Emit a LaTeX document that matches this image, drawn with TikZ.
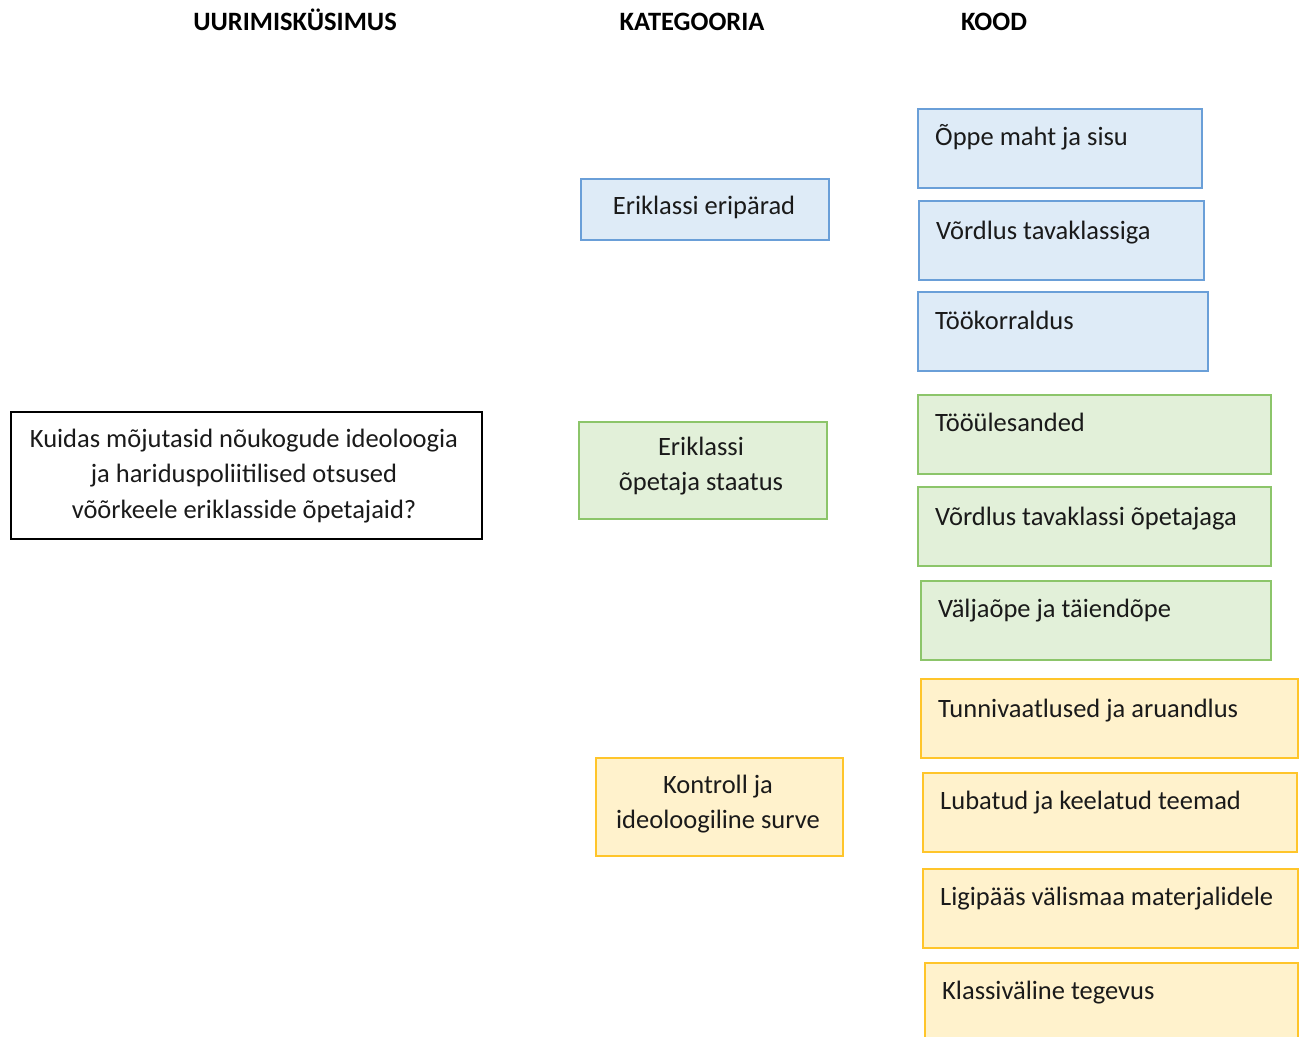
\documentclass[tikz,border=0pt]{standalone}
\usepackage{fontspec}
\setmainfont{Carlito}
\definecolor{bfill}{HTML}{DEEBF7}
\definecolor{bline}{HTML}{6A9FD8}
\definecolor{gfill}{HTML}{E2F0D9}
\definecolor{gline}{HTML}{8CC56A}
\definecolor{yfill}{HTML}{FFF2CC}
\definecolor{yline}{HTML}{FFC52A}
\definecolor{txt}{HTML}{1A1A1A}
\tikzset{
  base/.style={rectangle, anchor=north west, inner sep=0pt, line width=1.8pt, text=txt},
  bluebox/.style={base, draw=bline, fill=bfill},
  greenbox/.style={base, draw=gline, fill=gfill},
  yellowbox/.style={base, draw=yline, fill=yfill},
  qbox/.style={base, draw=black, fill=white, line width=1.5pt},
  codetext/.style={anchor=base west, inner sep=0pt, font=\fontsize{26.5}{35}\selectfont, text=txt},
  cattext/.style={align=center, inner sep=0pt, font=\fontsize{26.5}{35.5}\selectfont, text=txt},
  header/.style={anchor=base, inner sep=0pt, font=\fontsize{26.5}{30}\selectfont\bfseries, text=black}
}
\begin{document}
\begin{tikzpicture}[x=1pt,y=-1pt]
\useasboundingbox[fill=white] (0,0) rectangle (1300,1036);
% headers
\node[header] (h1) at (295,30) {UURIMISKÜSIMUS};
\node[header] (h2) at (692,30) {KATEGOORIA};
\node[header] (h3) at (994,30) {KOOD};
% question
\node[qbox, minimum width=471pt, minimum height=127pt] (q) at (10,411) {};
\node[cattext] (qt) at (244,476) {Kuidas mõjutasid nõukogude ideoloogia\\ja hariduspoliitilised otsused\\võõrkeele eriklasside õpetajaid?};
% categories
\node[bluebox, minimum width=248pt, minimum height=61pt] (k1) at (580,178) {};
\node[cattext] (k1t) at (704,207) {Eriklassi eripärad};
\node[greenbox, minimum width=248pt, minimum height=97pt] (k2) at (578,421) {};
\node[cattext] (k2t) at (701,466) {Eriklassi\\õpetaja staatus};
\node[yellowbox, minimum width=247pt, minimum height=98pt] (k3) at (595,757) {};
\node[cattext] (k3t) at (718,804) {Kontroll ja\\ideoloogiline surve};
% codes
\node[bluebox, minimum width=284pt, minimum height=79pt] (c1) at (917,108) {};
\node[codetext] (c1t) at (935,145) {Õppe maht ja sisu};
\node[bluebox, minimum width=285pt, minimum height=79pt] (c2) at (918,200) {};
\node[codetext] (c2t) at (936,239) {Võrdlus tavaklassiga};
\node[bluebox, minimum width=290pt, minimum height=79pt] (c3) at (917,291) {};
\node[codetext] (c3t) at (935,329) {Töökorraldus};
\node[greenbox, minimum width=353pt, minimum height=79pt] (c4) at (917,394) {};
\node[codetext] (c4t) at (935,431) {Tööülesanded};
\node[greenbox, minimum width=353pt, minimum height=79pt] (c5) at (917,486) {};
\node[codetext] (c5t) at (935,525) {Võrdlus tavaklassi õpetajaga};
\node[greenbox, minimum width=350pt, minimum height=79pt] (c6) at (920,580) {};
\node[codetext] (c6t) at (938,617) {Väljaõpe ja täiendõpe};
\node[yellowbox, minimum width=377pt, minimum height=79pt] (c7) at (920,678) {};
\node[codetext] (c7t) at (938,717) {Tunnivaatlused ja aruandlus};
\node[yellowbox, minimum width=374pt, minimum height=79pt] (c8) at (922,772) {};
\node[codetext] (c8t) at (940,809) {Lubatud ja keelatud teemad};
\node[yellowbox, minimum width=375pt, minimum height=79pt] (c9) at (922,868) {};
\node[codetext] (c9t) at (940,905) {Ligipääs välismaa materjalidele};
\node[yellowbox, minimum width=373pt, minimum height=80pt] (c10) at (924,962) {};
\node[codetext] (c10t) at (942,999) {Klassiväline tegevus};
\end{tikzpicture}
\end{document}
